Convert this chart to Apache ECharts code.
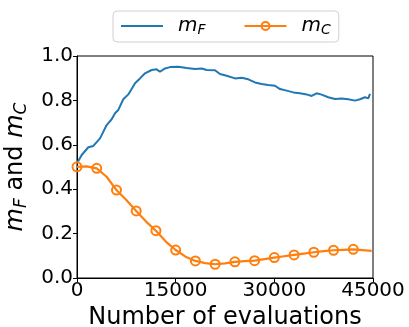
<!DOCTYPE html>
<html><head><meta charset="utf-8">
<script src="https://cdn.jsdelivr.net/npm/echarts@6/dist/echarts.min.js"></script>
<style>html,body{margin:0;padding:0;background:#fff}#c{width:409px;height:327px}</style>
</head><body><div id="c"></div>
<script>
var evalsF = [0,100,715,1720,2480,3500,4510,5270,5780,6280,7040,7800,8060,8820,9580,10340,11350,12110,12620,13380,14140,15400,16670,17940,18950,19710,20980,21740,22750,24020,25030,26040,27060,28070,29080,30100,30860,31870,32880,33900,34910,35670,36430,37190,38200,39220,40230,41240,42260,43020,43780,44280,44540];
var valuesF = [0.517,0.524,0.554,0.589,0.595,0.629,0.689,0.715,0.742,0.757,0.805,0.827,0.824,0.877,0.899,0.922,0.937,0.940,0.929,0.944,0.950,0.952,0.946,0.941,0.944,0.937,0.936,0.919,0.911,0.899,0.902,0.895,0.881,0.874,0.869,0.866,0.851,0.844,0.836,0.832,0.827,0.820,0.832,0.826,0.814,0.806,0.809,0.805,0.799,0.805,0.814,0.809,0.829];
var evalsC = [0,1500,3000,4500,6000,7500,9000,10500,12000,13500,15000,16500,18000,19500,21000,22500,24000,25500,27000,28500,30000,31500,33000,34500,36000,37500,39000,40500,42000,44800];
var valuesC = [0.501,0.503,0.494,0.456,0.396,0.351,0.302,0.254,0.213,0.164,0.126,0.096,0.077,0.067,0.062,0.066,0.073,0.076,0.078,0.085,0.092,0.098,0.104,0.110,0.116,0.121,0.125,0.127,0.129,0.122];
var markEvery = 3000;
var xTicks = [0,15000,30000,45000];

var blue = '#1f77b4', orange = '#ff7f0e';
var font = 'DejaVu Sans';
var richAxis = {
  i: {fontFamily: font, fontStyle: 'italic', fontSize: 24, color: '#000'},
  s: {fontFamily: font, fontStyle: 'italic', fontSize: 17, color: '#000', padding: [12, 0, 0, 0]},
  t: {fontFamily: font, fontSize: 24, color: '#000'}
};
var richLeg = {
  i: {fontFamily: font, fontStyle: 'italic', fontSize: 20, color: '#000'},
  s: {fontFamily: font, fontStyle: 'italic', fontSize: 14, color: '#000', padding: [8, 0, 0, 0]}
};
var dataF = evalsF.map(function (x, i) { return [x, valuesF[i]]; });
var dataC = evalsC.map(function (x, i) {
  var item = {value: [x, valuesC[i]]};
  if (x % markEvery !== 0 || x > 42000) item.symbol = 'none';
  return item;
});
var chart = echarts.init(document.getElementById('c'), null, {renderer: 'canvas'});
chart.setOption({
  animation: false,
  grid: {left: 77, right: 36, top: 56, bottom: 49, show: true, borderColor: '#000', borderWidth: 1,
    containLabel: false, outerBoundsMode: 'none'},
  legend: {
    top: 11, left: 113, padding: [5, 8, 5, 7], itemGap: 38, itemWidth: 42, itemHeight: 10,
    borderColor: '#d0d0d0', borderWidth: 1, borderRadius: 4,
    formatter: function (n) { return n === 'mF' ? '{i|m}{s|F}' : '{i|m}{s|C}'; },
    textStyle: {rich: richLeg, padding: [0, 0, 0, 10]},
    data: [
      {name: 'mF', itemStyle: {opacity: 0}},
      {name: 'mC', itemStyle: {color: 'rgba(0,0,0,0)', borderColor: orange, borderWidth: 2}}
    ]
  },
  xAxis: {
    type: 'value', min: 0, max: 45000, interval: 15000,
    name: 'Number of evaluations', nameLocation: 'middle', nameGap: 28,
    nameTextStyle: {fontFamily: font, fontSize: 24, color: '#000'},
    axisLine: {lineStyle: {color: '#000', width: 1}},
    axisTick: {show: true, length: 4, lineStyle: {color: '#000'}},
    axisLabel: {fontFamily: font, fontSize: 20, color: '#000', margin: 3,
      formatter: function (v) { return xTicks.indexOf(v) >= 0 ? String(v) : ''; }},
    splitLine: {show: false}
  },
  yAxis: {
    type: 'value', min: 0, max: 1, interval: 0.2,
    name: '{i|m}{s|F}{t| and }{i|m}{s|C}', nameLocation: 'middle', nameGap: 41,
    nameTextStyle: {rich: richAxis},
    axisLine: {show: true, lineStyle: {color: '#000', width: 1}},
    axisTick: {show: true, length: 4, lineStyle: {color: '#000'}},
    axisLabel: {fontFamily: font, fontSize: 20, color: '#000', margin: 4,
      formatter: function (v) { return v.toFixed(1); }},
    splitLine: {show: false}
  },
  series: [
    {name: 'mF', type: 'line', data: dataF, showSymbol: false, symbol: 'none',
      lineStyle: {color: blue, width: 2}, itemStyle: {color: blue}},
    {name: 'mC', type: 'line', data: dataC, symbol: 'circle', symbolSize: 9, showAllSymbol: true,
      lineStyle: {color: orange, width: 2.2},
      itemStyle: {color: 'rgba(0,0,0,0)', borderColor: orange, borderWidth: 2}}
  ]
});
</script></body></html>
